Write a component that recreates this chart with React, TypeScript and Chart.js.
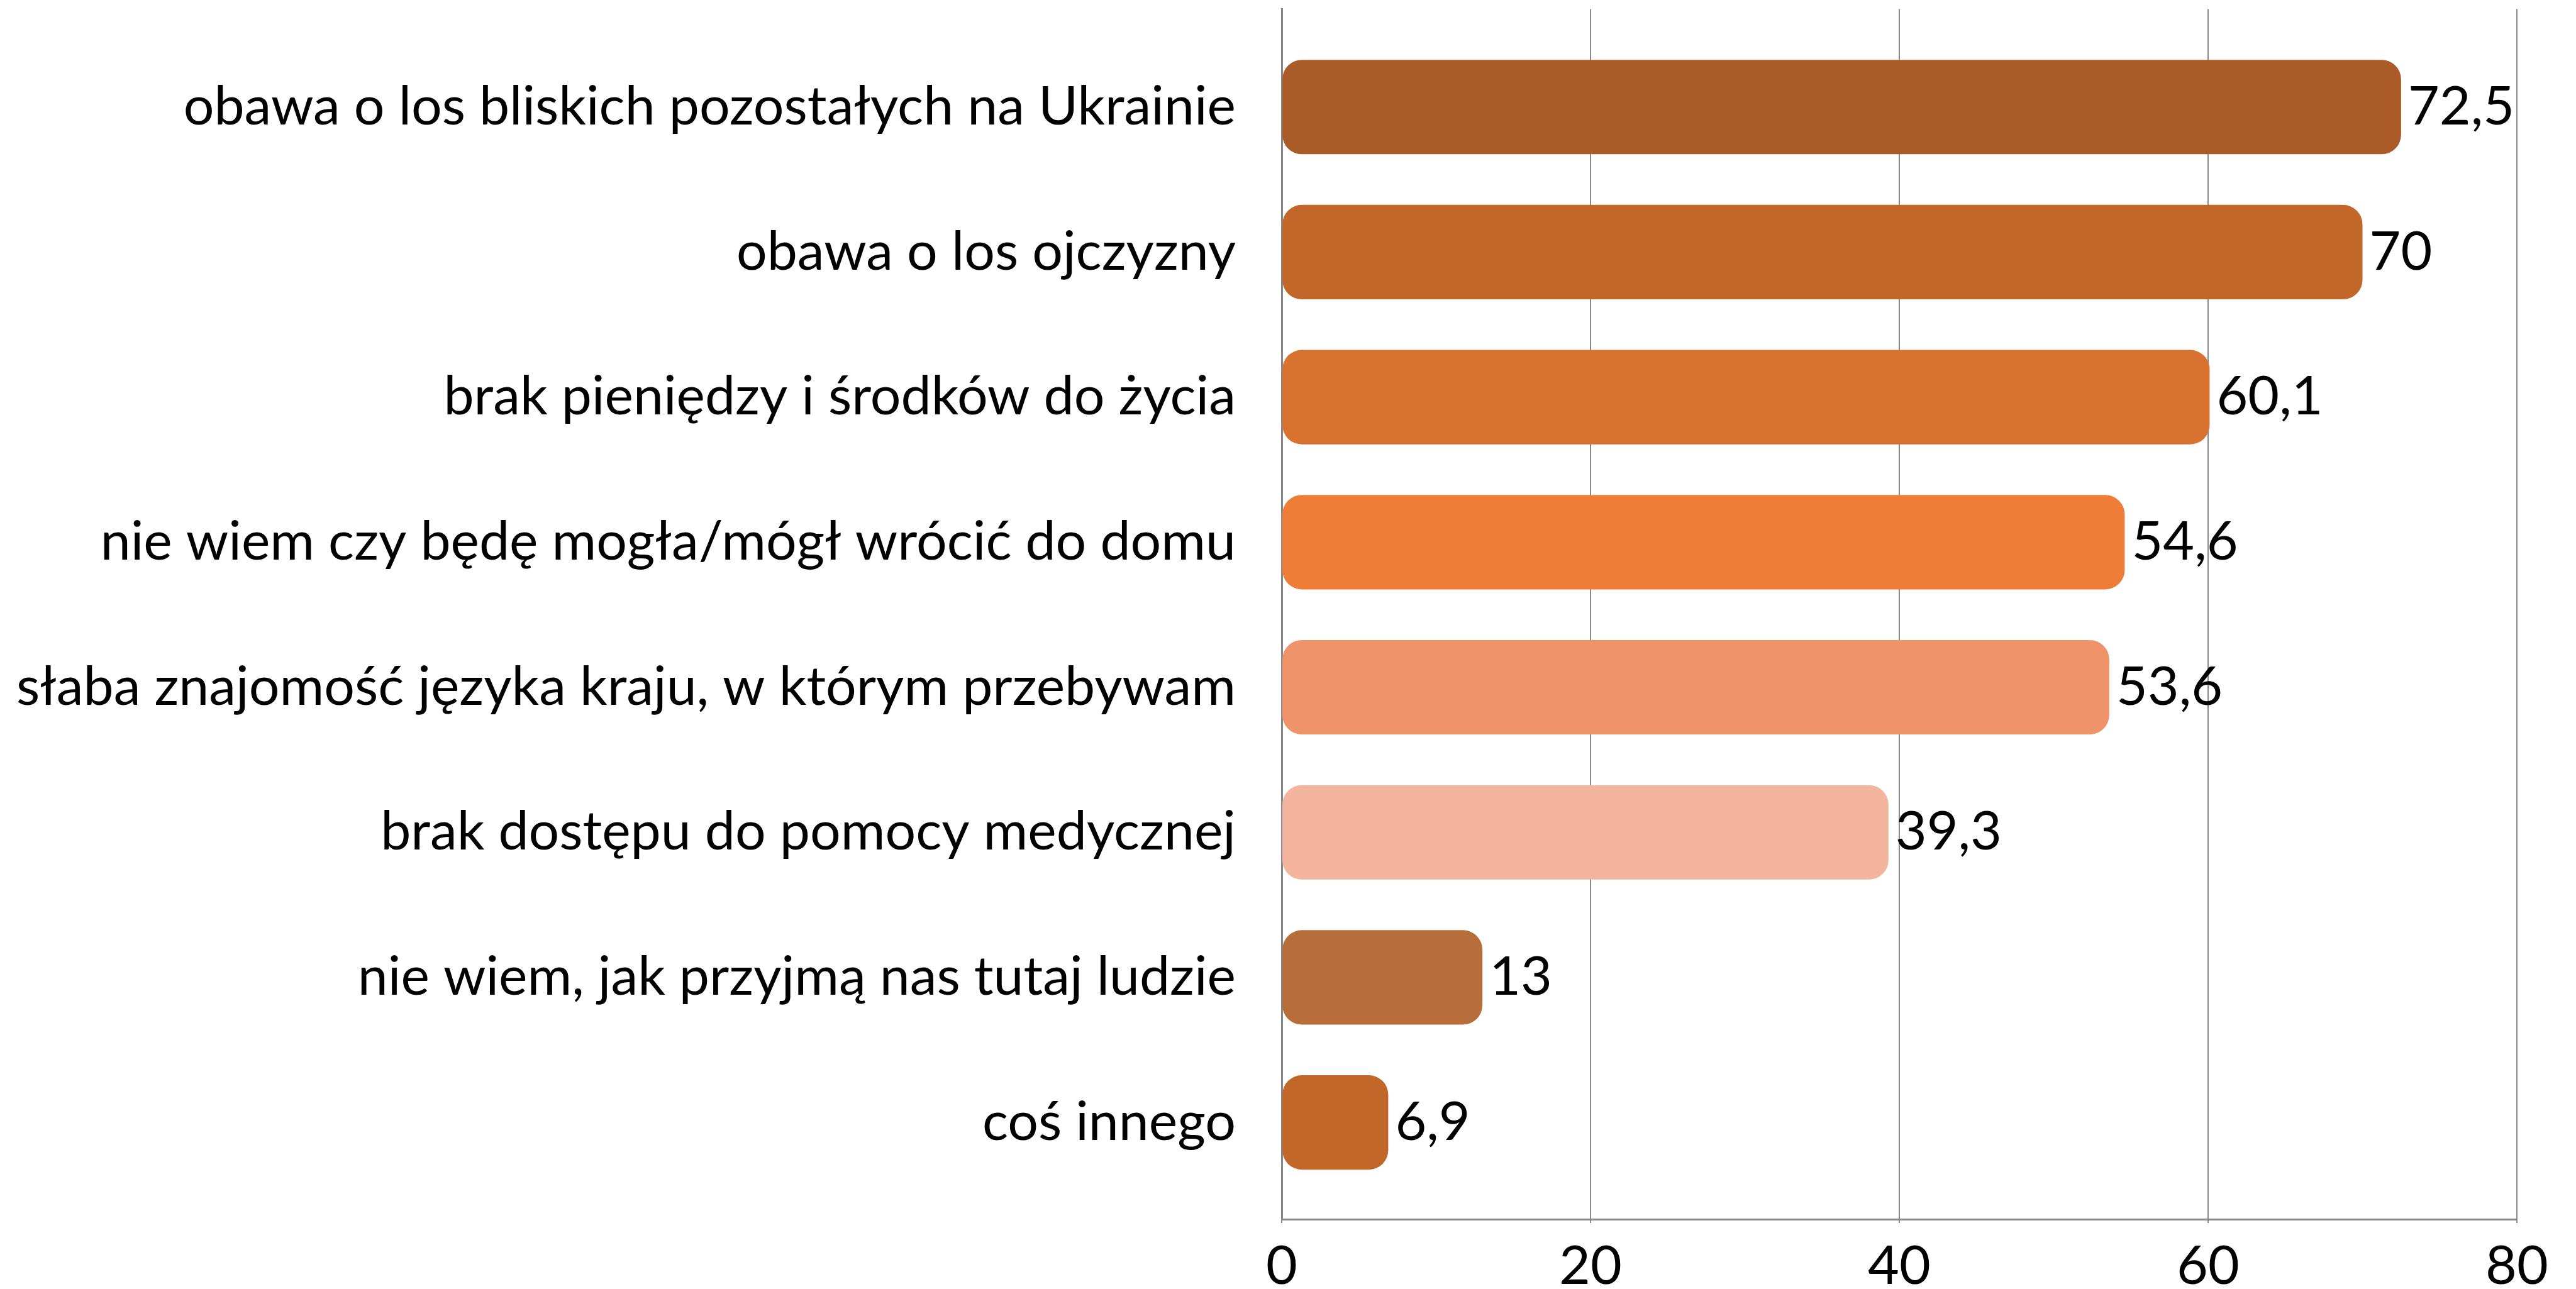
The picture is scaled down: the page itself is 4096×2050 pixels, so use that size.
import React, { useEffect, useRef } from "react";
import { Chart, registerables } from "chart.js";

Chart.register(...registerables);

const categories: string[] = [
  "obawa o los bliskich pozostałych na Ukrainie",
  "obawa o los ojczyzny",
  "brak pieniędzy i środków do życia",
  "nie wiem czy będę mogła/mógł wrócić do domu",
  "słaba znajomość języka kraju, w którym przebywam",
  "brak dostępu do pomocy medycznej",
  "nie wiem, jak przyjmą nas tutaj ludzie",
  "coś innego",
];

const values: number[] = [72.5, 70, 60.1, 54.6, 53.6, 39.3, 13, 6.9];

const barColors: string[] = [
  "#AB5B27",
  "#C2672A",
  "#D97230",
  "#ED7D37",
  "#EF936A",
  "#F3B59E",
  "#B86E3A",
  "#C1672A",
];

const xTicks: number[] = [0, 20, 40, 60, 80];

const FONT_FAMILY = "Lato";
const FONT_SIZE = 86;
const AXIS_COLOR = "#898989";

const W = 4096;
const H = 2050;
const PLOT_LEFT = 2038;
const PLOT_RIGHT = 4002;
const PLOT_TOP = 14.5;
const PLOT_BOTTOM = 1939;

const formatValue = (v: number) => String(v).replace(".", ",");

const valueLabels = {
  id: "valueLabels",
  afterDatasetsDraw(chart: any) {
    const ctx = chart.ctx;
    const meta = chart.getDatasetMeta(0);
    ctx.save();
    ctx.font = `${FONT_SIZE}px ${FONT_FAMILY}`;
    ctx.fillStyle = "#000000";
    ctx.textAlign = "left";
    ctx.textBaseline = "middle";
    meta.data.forEach((el: any, i: number) => {
      ctx.fillText(formatValue(values[i]), el.x + 11, el.y);
    });
    ctx.restore();
  },
};

export default function App() {
  const canvasRef = useRef<HTMLCanvasElement | null>(null);

  useEffect(() => {
    if (!canvasRef.current) return;
    const chart = new Chart(canvasRef.current, {
      type: "bar",
      data: {
        datasets: [
          {
            data: values.map((v, i) => ({ x: v, y: i })) as any,
            backgroundColor: barColors,
            borderWidth: 0,
            borderRadius: 31,
            borderSkipped: false,
            barPercentage: 0.651,
            categoryPercentage: 1,
          },
        ],
      },
      options: {
        indexAxis: "y",
        animation: false,
        responsive: false,
        events: [],
        layout: {
          padding: { top: PLOT_TOP, right: W - PLOT_RIGHT, left: 0, bottom: 0 },
        },
        plugins: {
          legend: { display: false },
          tooltip: { enabled: false },
          title: { display: false },
        },
        scales: {
          x: {
            type: "linear",
            position: "bottom",
            min: 0,
            max: 80,
            offset: false,
            afterBuildTicks: (scale: any) => {
              scale.ticks = xTicks.map((v) => ({ value: v }));
            },
            ticks: {
              color: "#000000",
              font: { family: FONT_FAMILY, size: FONT_SIZE },
              padding: 18,
            },
            grid: {
              color: AXIS_COLOR,
              lineWidth: 2,
              drawTicks: true,
              tickLength: 6,
              tickColor: AXIS_COLOR,
              tickWidth: 2,
              offset: false,
            },
            border: { display: true, color: AXIS_COLOR, width: 3 },
            afterFit: (scale: any) => {
              scale.height = H - PLOT_BOTTOM;
              scale.paddingLeft = 0;
              scale.paddingRight = 0;
            },
          },
          y: {
            type: "linear",
            position: "left",
            reverse: true,
            offset: false,
            min: -0.675,
            max: 7.667,
            afterBuildTicks: (scale: any) => {
              scale.ticks = categories.map((_, i) => ({ value: i }));
            },
            ticks: {
              color: "#000000",
              font: { family: FONT_FAMILY, size: FONT_SIZE },
              padding: 73,
              autoSkip: false,
              callback: (value: any) => categories[Math.round(Number(value))] ?? "",
            },
            grid: { display: false, drawTicks: false, offset: false },
            border: { display: true, color: AXIS_COLOR, width: 3 },
            afterFit: (scale: any) => {
              scale.width = PLOT_LEFT;
              scale.paddingTop = 0;
              scale.paddingBottom = 0;
            },
          },
        },
      },
      plugins: [valueLabels],
    });
    return () => chart.destroy();
  }, []);

  return (
    <div
      style={{
        position: "absolute",
        left: 0,
        top: 0,
        width: W,
        height: H,
        background: "#ffffff",
      }}
    >
      <canvas ref={canvasRef} width={W} height={H} style={{ display: "block" }} />
    </div>
  );
}
